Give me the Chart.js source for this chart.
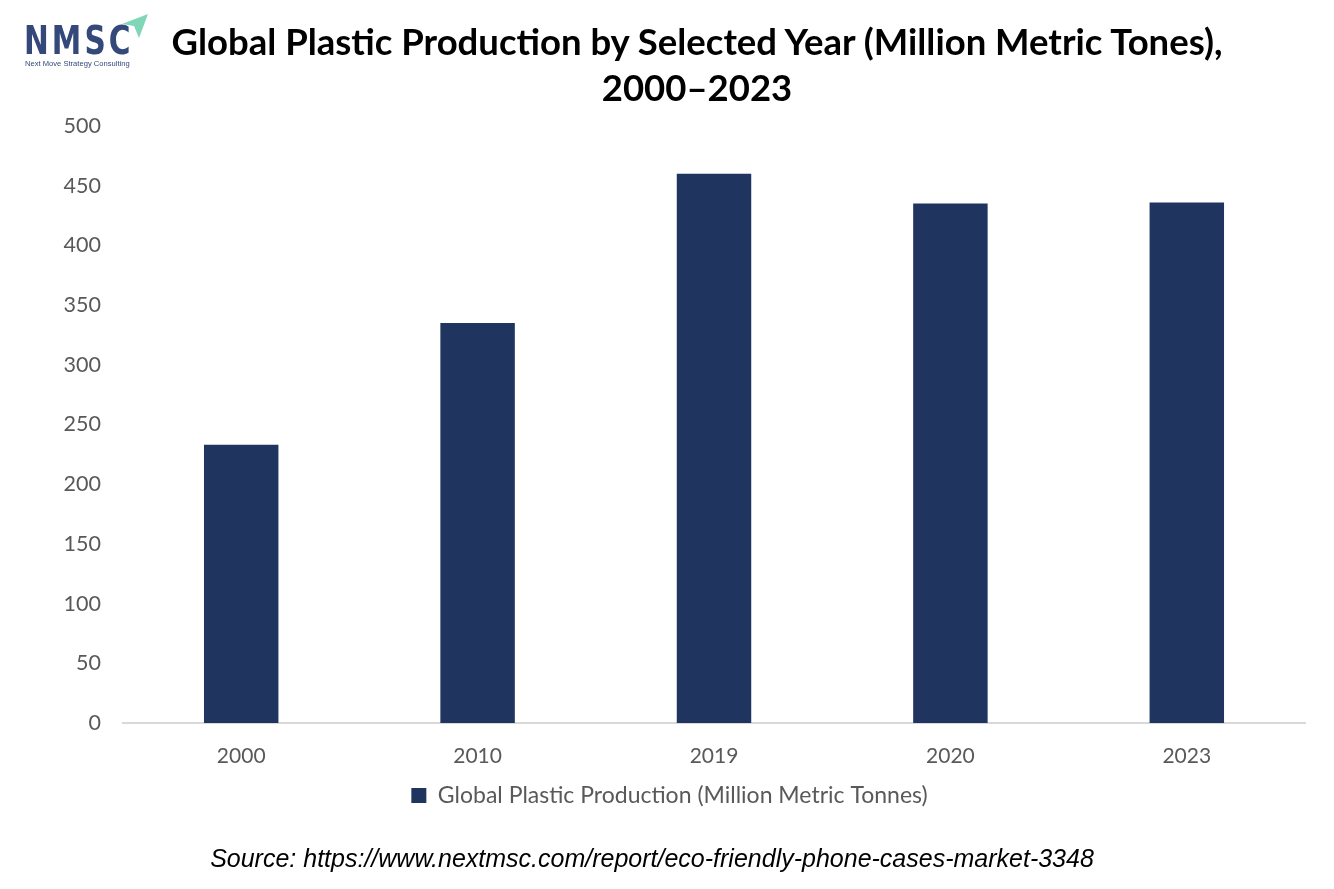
<!DOCTYPE html>
<html>
<head>
<meta charset="utf-8">
<script src="https://cdn.jsdelivr.net/npm/chart.js@4"></script>
<style>
  html, body { margin: 0; padding: 0; background: #fff; }
  #wrap { position: relative; width: 1334px; height: 889px; }
  #grafico { position: absolute; left: 0; top: 0; }
  .logo { position: absolute; left: 22px; top: 14px; width: 130px; height: 56px; }
  .logo .letras { position: absolute; left: 2px; top: 4px; font-family: "DejaVu Sans", sans-serif; font-weight: bold; font-size: 39px; letter-spacing: 4px; color: #34497a; transform: scaleX(0.76); transform-origin: left top; }
  .logo .sub { position: absolute; left: 3px; top: 45px; font-family: "Liberation Sans", sans-serif; font-size: 7.6px; color: #34497a; white-space: nowrap; }
  .logo svg { position: absolute; left: 0; top: 0; }
  .titulo { position: absolute; left: 0; width: 1394px; top: 18px; text-align: center; font-family: Lato, sans-serif; font-weight: bold; font-size: 36.5px; line-height: 46px; color: #000; }
  .fuente { position: absolute; left: 0; width: 1304px; top: 844px; text-align: center; font-family: "Liberation Sans", Arial, sans-serif; font-style: italic; font-size: 25px; color: #000; }
</style>
</head>
<body>
<div id="wrap">
  <canvas id="grafico" width="1334" height="889"></canvas>
  <div class="logo">
    <div class="letras">NMSC</div>
    <div class="sub">Next Move Strategy Consulting</div>
    <svg width="130" height="40" viewBox="0 0 130 40"><polygon points="100,10 126,0 117,24 112,12" fill="#7fd6b8"/></svg>
  </div>
  <div class="titulo">Global Plastic Production by Selected Year (Million Metric Tones),<br>2000&ndash;2023</div>
  <div class="fuente">Source: https://www.nextmsc.com/report/eco-friendly-phone-cases-market-3348</div>
</div>
<script>
// datos
var anios = ['2000', '2010', '2019', '2020', '2023'];
var produccion = [233, 335, 460, 435, 436];
var nombreSerie = 'Global Plastic Production (Million Metric Tonnes)';

var azul = 'rgb(31,53,96)';
var gris = '#595959';

var ctx = document.getElementById('grafico').getContext('2d');
new Chart(ctx, {
    type: 'bar',
    data: {
        labels: anios,
        datasets: [{
                label: nombreSerie,
                data: produccion,
                backgroundColor: azul,
                borderWidth: 0,
                barPercentage: 0.63,
                categoryPercentage: 0.5
            }]
    },
    options: {
        responsive: false,
        animation: false,
        layout: {
            padding: {left: 34, right: 29, top: 126, bottom: 72}
        },
        scales: {
            y: {
                min: 0,
                max: 500,
                // ancho fijo para que el area del grafico empiece en x=123
                afterFit: function (escala) {
                    escala.width = 89;
                },
                ticks: {
                    stepSize: 50,
                    color: gris,
                    padding: 14,
                    font: {family: 'Lato', size: 21.5}
                },
                grid: {display: false},
                border: {display: false}
            },
            x: {
                afterFit: function (escala) {
                    escala.height = 55;
                },
                ticks: {
                    color: gris,
                    padding: 13,
                    font: {family: 'Lato', size: 21}
                },
                grid: {display: false},
                border: {display: true, color: '#d9d9d9', width: 2}
            }
        },
        plugins: {
            legend: {
                position: 'bottom',
                labels: {
                    color: gris,
                    boxWidth: 15,
                    boxHeight: 15,
                    padding: 6,
                    font: {family: 'Lato', size: 23}
                }
            },
            tooltip: {enabled: false}
        }
    }
});
</script>
</body>
</html>
